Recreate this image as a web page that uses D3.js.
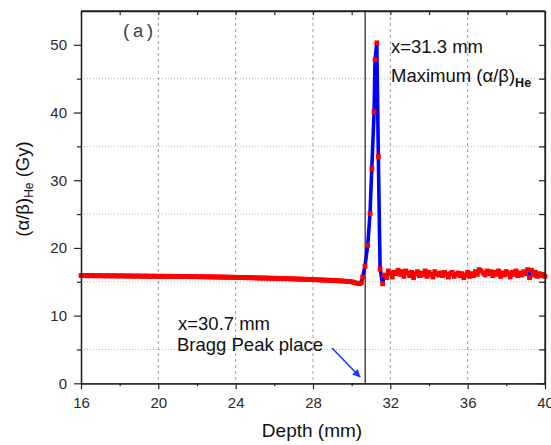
<!DOCTYPE html>
<html><head><meta charset="utf-8">
<script src="https://cdn.jsdelivr.net/npm/d3@7"></script>
<style>
body{margin:0;background:#fff}
svg{display:block}
text{font-family:"Liberation Sans",Arial,sans-serif}
</style>
</head><body><svg id="c" width="551" height="445"></svg>
<script>
// ---- data ----
const flatStart = 16.0, flatStep = 0.1;
const flatValues = [
  15.92,15.90,15.93,15.88,15.91,15.89,15.92,15.87,15.90,15.88,
  15.91,15.86,15.89,15.87,15.90,15.85,15.88,15.86,15.89,15.84,
  15.87,15.85,15.88,15.83,15.86,15.84,15.87,15.82,15.85,15.83,
  15.86,15.81,15.84,15.82,15.85,15.80,15.83,15.81,15.84,15.79,
  15.82,15.80,15.83,15.78,15.81,15.79,15.82,15.77,15.80,15.78,
  15.80,15.76,15.79,15.75,15.78,15.76,15.79,15.74,15.77,15.75,
  15.77,15.73,15.76,15.72,15.75,15.71,15.74,15.70,15.73,15.69,
  15.72,15.68,15.71,15.67,15.70,15.66,15.69,15.65,15.68,15.64,
  15.66,15.63,15.65,15.61,15.64,15.60,15.62,15.58,15.61,15.57,
  15.59,15.56,15.58,15.54,15.57,15.53,15.55,15.51,15.54,15.50,
  15.52,15.48,15.51,15.47,15.49,15.45,15.48,15.44,15.46,15.42,
  15.44,15.40,15.42,15.38,15.40,15.36,15.38,15.34,15.36,15.32,
  15.33,15.29,15.31,15.27,15.28,15.24,15.26,15.22,15.23,15.19,
  15.20,15.16,15.17,15.13,15.14,15.10,15.10,15.06,15.06,15.02,
  15.00,14.92,14.84,14.76,14.72
];
const peakDepths = [30.5, 30.57, 30.69, 30.83, 30.95, 31.04, 31.16, 31.21, 31.30, 31.38, 31.47, 31.6];
const peakValues = [14.85, 15.7, 17.3, 20.4, 25.1, 31.7, 40.1, 47.8, 50.3, 33.5, 16.9, 14.7];
const tailStart = 31.7, tailStep = 0.1;
const tailValues = [
  16.0,15.6,16.6,16.3,15.7,16.4,16.2,16.7,16.1,16.5,
  15.8,16.6,16.3,15.9,16.4,15.6,16.2,16.5,15.9,16.3,
  16.0,16.6,15.8,16.4,16.1,15.7,16.5,16.2,16.0,16.3,
  15.9,16.4,16.1,15.7,16.2,16.4,15.8,16.1,16.3,15.9,
  16.2,15.6,16.0,16.4,15.8,16.2,15.9,16.5,16.1,16.8,
  16.6,16.3,16.0,16.6,16.2,16.5,15.9,16.4,16.1,16.6,
  15.8,16.3,16.0,16.5,16.2,15.7,16.4,16.1,16.6,15.9,
  16.3,16.0,16.5,16.2,16.8,15.6,16.7,16.0,16.4,15.8,
  16.2,15.9,16.1,15.8
];
const xTicks = [16, 20, 24, 28, 32, 36, 40];
const xMinorTicks = [18, 22, 26, 30, 34, 38];
const yTicks = [0, 10, 20, 30, 40, 50];
const yMinorTicks = [5, 15, 25, 35, 45];
const braggDepth = 30.7;

// ---- build points ----
const points = [];
flatValues.forEach((v, i) => points.push({x: +(flatStart + i * flatStep).toFixed(2), y: v}));
peakValues.forEach((v, i) => points.push({x: peakDepths[i], y: v}));
tailValues.forEach((v, i) => points.push({x: +(tailStart + i * tailStep).toFixed(2), y: v}));

const svg = d3.select("#c");
const L = 81, R = 545, T = 11, B = 383.3;
const x = d3.scaleLinear().domain([16, 40]).range([L, R]);
const y = d3.scaleLinear().domain([0, 55]).range([B, T]);

// grid
const grid = svg.append("g");
grid.selectAll("line.vg").data(xTicks.filter(t => t > 16 && t < 40)).join("line")
  .attr("x1", d => x(d)).attr("x2", d => x(d)).attr("y1", T).attr("y2", B)
  .attr("stroke", "#9a9a9a").attr("stroke-width", 1).attr("stroke-dasharray", "3,3");
grid.selectAll("line.hg").data(yMinorTicks).join("line")
  .attr("y1", d => y(d)).attr("y2", d => y(d)).attr("x1", L).attr("x2", R)
  .attr("stroke", "#b5b5b5").attr("stroke-width", 1).attr("stroke-dasharray", "1,2");

// Bragg peak vertical line
svg.append("line").attr("x1", x(braggDepth)).attr("x2", x(braggDepth))
  .attr("y1", T).attr("y2", B).attr("stroke", "#555").attr("stroke-width", 1.6);

// blue line
const line = d3.line().x(d => x(d.x)).y(d => y(d.y));
svg.append("path").datum(points).attr("d", line)
  .attr("fill", "none").attr("stroke", "#0000ff").attr("stroke-width", 3.6)
  .attr("stroke-linejoin", "round");

// red square markers
const ms = 4.8;
svg.append("g").selectAll("rect").data(points).join("rect")
  .attr("x", d => x(d.x) - ms / 2).attr("y", d => y(d.y) - ms / 2)
  .attr("width", ms).attr("height", ms).attr("fill", "#ff0000");

// axes
function styleAxis(g) {
  g.select(".domain").attr("stroke", "#222").attr("stroke-width", 1.3);
  g.selectAll(".tick line").attr("stroke", "#222").attr("stroke-width", 1.2);
  g.selectAll(".tick text").attr("fill", "#2a2a2a").style("font-size", "15px")
    .style("font-family", '"Liberation Sans",Arial,sans-serif');
}
const gx = svg.append("g").attr("transform", `translate(0,${B})`)
  .call(d3.axisBottom(x).tickValues(xTicks).tickFormat(d3.format("d")).tickSizeInner(6).tickSizeOuter(0).tickPadding(8));
styleAxis(gx);
const gxm = svg.append("g").attr("transform", `translate(0,${B})`)
  .call(d3.axisBottom(x).tickValues(xMinorTicks).tickFormat("").tickSizeInner(3).tickSizeOuter(0));
styleAxis(gxm);
const gy = svg.append("g").attr("transform", `translate(${L},0)`)
  .call(d3.axisLeft(y).tickValues(yTicks).tickFormat(d3.format("d")).tickSizeInner(7).tickSizeOuter(0).tickPadding(7));
styleAxis(gy);
const gym = svg.append("g").attr("transform", `translate(${L},0)`)
  .call(d3.axisLeft(y).tickValues(yMinorTicks).tickFormat("").tickSizeInner(4).tickSizeOuter(0));
styleAxis(gym);
const gt = svg.append("g").attr("transform", `translate(0,${T})`)
  .call(d3.axisBottom(x).tickValues(xTicks.concat(xMinorTicks)).tickFormat("").tickSizeInner(4).tickSizeOuter(0));
styleAxis(gt);
const gr = svg.append("g").attr("transform", `translate(${R},0)`)
  .call(d3.axisLeft(y).tickValues(yTicks.concat(yMinorTicks)).tickFormat("").tickSizeInner(6).tickSizeOuter(0));
styleAxis(gr);
// top/right frame lines
svg.append("line").attr("x1", L).attr("x2", R).attr("y1", T).attr("y2", T).attr("stroke", "#222").attr("stroke-width", 1.3);
svg.append("line").attr("x1", R).attr("x2", R).attr("y1", T).attr("y2", B).attr("stroke", "#222").attr("stroke-width", 1.3);

// axis titles
svg.append("text").attr("x", 312).attr("y", 437).attr("text-anchor", "middle")
  .style("font-size", "19px").attr("fill", "#111").text("Depth (mm)");
const yl = svg.append("text").attr("transform", "translate(29,189) rotate(-90)")
  .attr("text-anchor", "middle").style("font-size", "18.5px").attr("fill", "#111");
yl.append("tspan").text("(α/β)");
yl.append("tspan").attr("dy", 4).style("font-size", "12px").text("He");
yl.append("tspan").attr("dy", -4).text(" (Gy)");

// panel label
svg.append("text").attr("x", 121).attr("y", 37)
  .style("font-family", '"Liberation Mono","DejaVu Sans Mono",monospace')
  .style("font-size", "19px").attr("fill", "#444").text("(a)");

// annotations
svg.append("text").attr("x", 391).attr("y", 53).style("font-size", "18.5px").attr("fill", "#111").text("x=31.3 mm");
const mx = svg.append("text").attr("x", 391).attr("y", 82).style("font-size", "18.5px").attr("fill", "#111");
mx.append("tspan").text("Maximum (α/β)");
mx.append("tspan").attr("dy", 5).style("font-size", "12.5px").style("font-weight", "bold").text("He");

svg.append("text").attr("x", 178).attr("y", 330).style("font-size", "18.5px").attr("fill", "#111").text("x=30.7 mm");
svg.append("text").attr("x", 177).attr("y", 351).style("font-size", "18.5px").attr("fill", "#111").text("Bragg Peak place");

// arrow
svg.append("defs").append("marker").attr("id", "ah").attr("viewBox", "0 0 10 10")
  .attr("refX", 9).attr("refY", 5).attr("markerWidth", 5).attr("markerHeight", 5)
  .attr("orient", "auto").append("path").attr("d", "M0,0 L10,5 L0,10 z").attr("fill", "#1a3cff");
svg.append("line").attr("x1", 332).attr("y1", 348).attr("x2", 360).attr("y2", 377)
  .attr("stroke", "#1a3cff").attr("stroke-width", 1.6).attr("marker-end", "url(#ah)");
</script>
</body></html>
